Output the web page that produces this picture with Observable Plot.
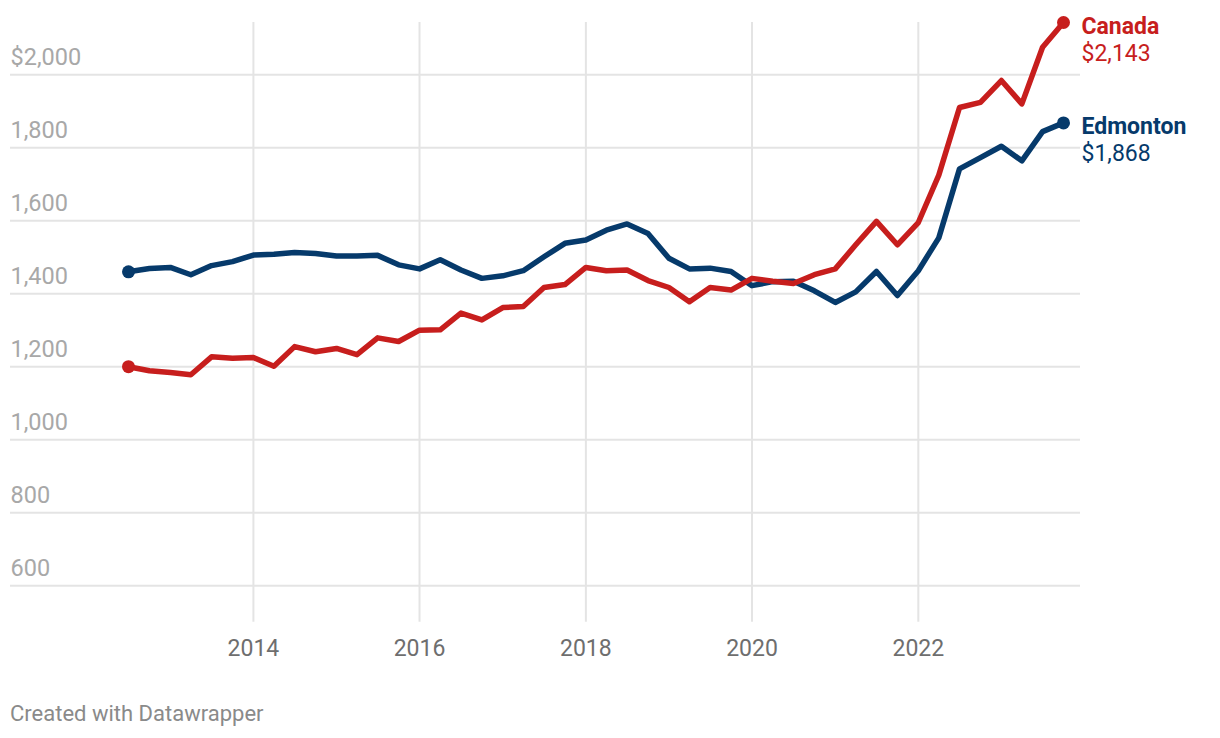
<!DOCTYPE html>
<html>
<head>
<meta charset="utf-8">
<script src="https://cdn.jsdelivr.net/npm/d3@7"></script>
<script src="https://cdn.jsdelivr.net/npm/@observablehq/plot@0.6"></script>
<style>
  html, body { margin: 0; padding: 0; background: #ffffff; }
  #chart svg { display: block; }
  #caption { font-family: Roboto, sans-serif; font-size: 22px; line-height: 26px; color: #8a8a8a; padding-left: 10px; margin-top: 1px; }
</style>
</head>
<body>
<div id="chart"></div>
<div id="caption">Created with Datawrapper</div>
<script>
// Quarterly dates
const dates = [
  "2012-07-01","2012-10-01",
  "2013-01-01","2013-04-01","2013-07-01","2013-10-01",
  "2014-01-01","2014-04-01","2014-07-01","2014-10-01",
  "2015-01-01","2015-04-01","2015-07-01","2015-10-01",
  "2016-01-01","2016-04-01","2016-07-01","2016-10-01",
  "2017-01-01","2017-04-01","2017-07-01","2017-10-01",
  "2018-01-01","2018-04-01","2018-07-01","2018-10-01",
  "2019-01-01","2019-04-01","2019-07-01","2019-10-01",
  "2020-01-01","2020-04-01","2020-07-01","2020-10-01",
  "2021-01-01","2021-04-01","2021-07-01","2021-10-01",
  "2022-01-01","2022-04-01","2022-07-01","2022-10-01",
  "2023-01-01","2023-04-01","2023-07-01","2023-10-01"
];
const canada = [1200,1189,1184,1178,1227,1223,1225,1201,1255,1241,1250,1233,1279,1269,1300,1301,1347,1328,1362,1365,1417,1425,1472,1463,1465,1436,1417,1378,1417,1410,1442,1434,1428,1452,1468,1534,1598,1534,1595,1725,1910,1924,1984,1920,2075,2143];
const edmonton = [1460,1469,1472,1452,1477,1488,1506,1508,1513,1510,1503,1503,1505,1479,1468,1493,1465,1442,1449,1463,1501,1538,1547,1574,1591,1565,1497,1468,1470,1461,1422,1433,1434,1408,1376,1405,1461,1395,1463,1553,1742,1773,1804,1764,1844,1868];
const seriesNames = ["Edmonton", "Canada"];
const seriesColors = ["#063a6b", "#c71e1d"];
const yTicks = [600, 800, 1000, 1200, 1400, 1600, 1800, 2000];
const yTickLabels = ["600", "800", "1,000", "1,200", "1,400", "1,600", "1,800", "$2,000"];
const xTicks = ["2014-01-01", "2016-01-01", "2018-01-01", "2020-01-01", "2022-01-01"];
const xTickLabels = ["2014", "2016", "2018", "2020", "2022"];

const valuesByName = {Edmonton: edmonton, Canada: canada};
const rows = seriesNames.flatMap((name, si) =>
  dates.map((d, i) => ({date: new Date(d), value: valuesByName[name][i], name, color: seriesColors[si]}))
);
const xTickDates = xTicks.map(d => new Date(d));
const fmt = d3.format(",");
const maxV = d3.max(rows, d => d.value);

const chart = Plot.plot({
  width: 1220,
  height: 700,
  marginLeft: 128,
  marginRight: 157,
  marginTop: 22,
  marginBottom: 78.3,
  style: {fontFamily: "Roboto, sans-serif", background: "#ffffff", overflow: "visible"},
  x: {type: "utc", domain: [new Date(dates[0]), new Date(dates[dates.length - 1])], axis: null},
  y: {domain: [500, maxV], axis: null},
  marks: [
    Plot.ruleY(yTicks, {y: d => d, stroke: "#e4e4e4", strokeWidth: 2, insetLeft: -118, insetRight: -17}),
    Plot.ruleX(xTickDates, {x: d => d, stroke: "#e4e4e4", strokeWidth: 2}),
    Plot.text(yTicks, {y: d => d, text: (d, i) => yTickLabels[i], frameAnchor: "left", textAnchor: "start", lineAnchor: "bottom", dx: -118, dy: -10, fill: "#a8a8a8", fontSize: 23.5}),
    Plot.text(xTickDates, {x: d => d, text: (d, i) => xTickLabels[i], frameAnchor: "bottom", lineAnchor: "middle", dy: 26, fill: "#6e6e6e", fontSize: 23}),
    Plot.line(rows, {x: "date", y: "value", z: "name", stroke: "color", strokeWidth: 5.5, strokeLinejoin: "round", strokeLinecap: "round"}),
    Plot.dot(rows, Plot.selectFirst({x: "date", y: "value", z: "name", fill: "color", r: 6.5, stroke: "none"})),
    Plot.dot(rows, Plot.selectLast({x: "date", y: "value", z: "name", fill: "color", r: 6.5, stroke: "none"})),
    Plot.text(rows, Plot.selectLast({x: "date", y: "value", z: "name", text: "name", fill: "color", textAnchor: "start", lineAnchor: "bottom", dx: 18, dy: 11, fontSize: 23, fontWeight: "bold"})),
    Plot.text(rows, Plot.selectLast({x: "date", y: "value", z: "name", text: d => "$" + fmt(d.value), fill: "color", textAnchor: "start", lineAnchor: "bottom", dx: 18, dy: 38.5, fontSize: 23}))
  ]
});
document.getElementById("chart").appendChild(chart);
</script>
</body>
</html>
